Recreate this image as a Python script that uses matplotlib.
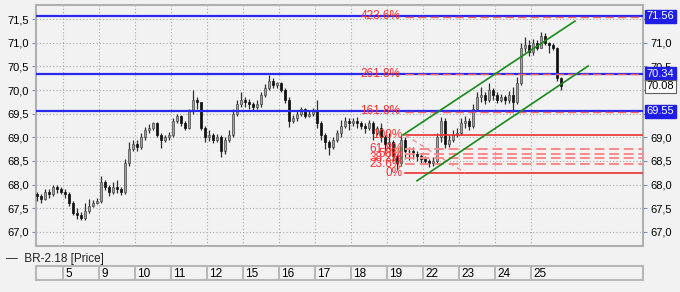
import matplotlib
matplotlib.use("Agg")
import matplotlib.pyplot as plt
import matplotlib.transforms as mtransforms
import numpy as np

# hourly-ish candles, 9 per trading day
closes = [67.75, 67.70, 67.85, 67.80, 67.95, 67.90, 67.85,
          67.80, 67.60, 67.40, 67.35, 67.30, 67.45, 67.55, 67.60, 67.65,
          68.05, 67.95, 67.85, 67.95, 67.90, 67.85, 68.45, 68.75, 68.85,
          68.80, 69.00, 69.15, 69.20, 69.30, 69.05, 68.95, 69.00, 69.05,
          69.35, 69.45, 69.30, 69.20, 69.55, 69.80, 69.75, 69.20, 69.00,
          69.05, 68.95, 69.00, 68.70, 68.95, 69.05, 69.50, 69.70, 69.80,
          69.75, 69.70, 69.65, 69.70, 69.90, 70.05, 70.20, 70.10, 70.15,
          70.00, 69.80, 69.35, 69.40, 69.50, 69.60, 69.45, 69.50, 69.55,
          69.30, 69.05, 68.90, 68.80, 68.95, 69.10, 69.25, 69.35, 69.30,
          69.35, 69.30, 69.25, 69.20, 69.30, 69.10, 69.20, 69.00, 68.85,
          68.90, 68.60, 68.45, 68.95, 68.70, 68.70, 68.65, 68.60, 68.55,
          68.50, 68.45, 68.50, 69.00, 69.35, 68.85, 68.95, 69.05, 69.10,
          69.30, 69.35, 69.25, 69.60, 69.85, 69.90, 69.80, 70.00, 69.90,
          69.80, 69.85, 69.80, 69.90, 69.75, 70.15, 70.90, 70.95, 70.80,
          71.00, 70.90, 71.15, 71.00, 70.95, 70.90, 70.25, 70.08]
highs = [67.85, 67.80, 67.90, 67.90, 68.00, 68.00, 67.95,
         67.90, 67.85, 67.65, 67.50, 67.42, 67.62, 67.70, 67.68, 67.72,
         68.18, 68.10, 68.00, 68.05, 68.10, 67.95, 68.55, 68.90, 68.95,
         68.95, 69.10, 69.22, 69.28, 69.33, 69.32, 69.10, 69.05, 69.12,
         69.40, 69.50, 69.48, 69.35, 69.60, 70.00, 69.85, 69.75, 69.25,
         69.15, 69.10, 69.08, 69.05, 69.00, 69.15, 69.60, 69.80, 69.95,
         69.85, 69.82, 69.75, 69.78, 69.95, 70.12, 70.32, 70.25, 70.18,
         70.18, 70.05, 69.85, 69.48, 69.55, 69.65, 69.62, 69.55, 69.62,
         69.80, 69.35, 69.10, 68.95, 69.00, 69.15, 69.37, 69.43, 69.40,
         69.40, 69.42, 69.35, 69.30, 69.37, 69.35, 69.25, 69.30, 69.05,
         69.10, 68.95, 68.65, 69.05, 69.00, 68.80, 68.80, 68.70, 68.65,
         68.60, 68.55, 68.58, 69.10, 69.43, 69.40, 69.05, 69.15, 69.20,
         69.40, 69.45, 69.40, 69.70, 69.95, 70.07, 69.95, 70.14, 70.05,
         69.95, 69.92, 69.90, 69.98, 70.07, 70.28, 71.00, 71.12, 71.05,
         71.08, 71.05, 71.23, 71.20, 71.02, 71.00, 70.92, 70.28]
lows = [67.65, 67.62, 67.68, 67.72, 67.75, 67.82, 67.80,
        67.72, 67.55, 67.35, 67.28, 67.25, 67.25, 67.40, 67.52, 67.58,
        67.62, 67.88, 67.75, 67.80, 67.82, 67.78, 67.80, 68.40, 68.70,
        68.72, 68.75, 68.95, 69.10, 69.15, 69.00, 68.78, 68.90, 68.95,
        69.00, 69.30, 69.25, 69.15, 69.18, 69.50, 69.60, 69.15, 68.90,
        68.92, 68.88, 68.90, 68.58, 68.65, 68.90, 69.00, 69.45, 69.65,
        69.65, 69.60, 69.58, 69.60, 69.65, 69.85, 70.00, 70.05, 70.05,
        69.95, 69.72, 69.22, 69.30, 69.35, 69.45, 69.40, 69.42, 69.45,
        69.20, 68.95, 68.75, 68.63, 68.75, 68.90, 69.00, 69.20, 69.15,
        69.25, 69.20, 69.18, 69.10, 69.15, 68.95, 69.05, 68.90, 68.67,
        68.75, 68.50, 68.31, 68.40, 68.55, 68.52, 68.55, 68.50, 68.45,
        68.45, 68.38, 68.40, 68.45, 68.90, 68.78, 68.80, 68.90, 69.00,
        69.05, 69.20, 69.15, 69.20, 69.55, 69.75, 69.70, 69.75, 69.80,
        69.72, 69.75, 69.70, 69.72, 69.55, 69.70, 70.10, 70.80, 70.72,
        70.75, 70.85, 70.88, 70.95, 70.78, 70.85, 70.20, 70.00]
first_open = 67.80

day_labels = ["5", "9", "10", "11", "12", "15", "16", "17", "18", "19",
              "22", "23", "24", "25"]
bars_per_day = 9
first_day_at = 6.5

# horizontal levels (blue) and fibonacci levels
blue_levels = [71.56, 70.34, 69.55]
ext_labels = ["423.6%", "261.8%", "161.8%"]
fib_high, fib_low = 69.05, 68.25
fib_ratios = [1.0, 0.618, 0.5, 0.382, 0.236, 0.0]
fib_names = ["100%", "61.8%", "50%", "38.2%", "23.6%", "0%"]
last_price = 70.08
right_hidden = [71.5, 70.0, 69.5]   # covered by the value boxes

# channel endpoints (index, price)
chan_up = [(91.5, 69.05), (134.5, 71.46)]
chan_lo = [(95.0, 68.08), (137.8, 70.51)]

BG = "#f2f2f2"
plt.rcParams["font.family"] = ["Liberation Sans", "DejaVu Sans"]

fig = plt.figure(figsize=(6.8, 2.92), dpi=100, facecolor=BG)
ax = fig.add_axes([36/680, 46/292, 607/680, 241/292], facecolor=BG)

n = len(closes)
x = np.arange(n)
opens = [first_open] + closes[:-1]
c = np.array(closes); o = np.array(opens)
up = c >= o
ax.vlines(x, lows, highs, color="#303030", lw=0.9, zorder=3)
body_lo = np.minimum(o, c); body_h = np.maximum(np.abs(c - o), 0.02)
ax.bar(x[up], body_h[up], bottom=body_lo[up], width=0.65, color="#a0a0a0",
       edgecolor="#4a4a4a", lw=0.5, zorder=4)
ax.bar(x[~up], body_h[~up], bottom=body_lo[~up], width=0.65, color="#101010",
       edgecolor="#101010", lw=0.5, zorder=4)

xmin, xmax = -0.25, 151.5
ymin, ymax = 66.70, 71.80
ax.set_xlim(xmin, xmax)
ax.set_ylim(ymin, ymax)

day_pos = [first_day_at + bars_per_day*k for k in range(len(day_labels))]
ax.set_xticks(day_pos)
ax.set_xticklabels([])
yt = np.arange(67.0, 71.51, 0.5)
fmt = lambda v: ("%.1f" % v).replace(".", ",")
ax.set_yticks(yt)
ax.set_yticklabels([fmt(v) for v in yt])
ax.tick_params(axis="y", labelsize=8, length=3, color="#7090c0",
               left=True, right=False, labelleft=True, labelright=False, pad=2)
ax.tick_params(axis="x", length=0)
ax.grid(True, color="#a8a8a8", linestyle=(0, (1, 2)), lw=0.8)
ax.set_axisbelow(True)
for s in ax.spines.values():
    s.set_color("#b0b0b0")
    s.set_linewidth(1.5)

# right axis labels, minus the ones hidden behind the boxes
rax = ax.twinx()
rax.set_ylim(ymin, ymax)
rax.set_yticks(yt)
rax.set_yticklabels(["" if any(abs(v - h) < 1e-6 for h in right_hidden)
                     else fmt(v) for v in yt])
rax.tick_params(axis="y", labelsize=8, length=3, color="#7090c0", pad=2)
for s in rax.spines.values():
    s.set_visible(False)

# blue level lines + extension labels
fib_x0 = 92.0
for lv, lab in zip(blue_levels, ext_labels):
    ax.axhline(lv, color="#2a2aee", lw=1.6, zorder=5)
    ax.plot([fib_x0, xmax], [lv - 0.01, lv - 0.01], color="#ff6060",
            lw=1.0, ls=(0, (6, 3)), zorder=6)
    ax.text(90.8, lv, lab, color="#ff3030", fontsize=8.5, ha="right",
            va="center", zorder=7)

# fibonacci retracement
for r, nm in zip(fib_ratios, fib_names):
    lv = fib_low + r*(fib_high - fib_low)
    if r in (0.0, 1.0):
        ax.plot([fib_x0, xmax], [lv, lv], color="#ee3030", lw=1.2, zorder=5)
    else:
        ax.plot([fib_x0, xmax], [lv, lv], color="#ff8888", lw=1.4,
                ls=(0, (5, 2.5)), zorder=5)
    ax.text(91.4, lv, nm, color="#ff3030", fontsize=8.5, ha="right",
            va="center", zorder=7)
ax.plot([fib_x0, 107.0], [fib_high, fib_low], color="#ff8888", lw=0.9,
        ls=(0, (4, 3)), zorder=5)

# trend channel
for pts in (chan_up, chan_lo):
    ax.plot([p[0] for p in pts], [p[1] for p in pts], color="#1a8a1a",
            lw=1.2, zorder=6)

# right-side value boxes
trans = mtransforms.blended_transform_factory(rax.transAxes, rax.transData)
for lv in blue_levels:
    rax.text(1.006, lv, "%.2f" % lv, transform=trans, color="white",
             fontsize=8, ha="left", va="center", zorder=10, clip_on=False,
             bbox=dict(boxstyle="square,pad=0.15", fc="#1e1ee6", ec="#1e1ee6"))
rax.text(1.006, last_price, "%.2f" % last_price, transform=trans,
         color="black", fontsize=8, ha="left", va="center", zorder=10,
         clip_on=False,
         bbox=dict(boxstyle="square,pad=0.15", fc="white", ec="#606060", lw=0.8))

# date strip
dax = fig.add_axes([36/680, 12/292, 607/680, 14/292], facecolor=BG)
dax.set_xlim(xmin, xmax)
dax.set_ylim(0, 1)
dax.set_xticks([]); dax.set_yticks([])
for s in dax.spines.values():
    s.set_color("#b8b8b8")
    s.set_linewidth(1.5)
for p, lab in zip(day_pos, day_labels):
    dax.axvline(p, color="#b8b8b8", lw=1.5)
    dax.text(p + 0.6, 0.45, lab, fontsize=8.5, ha="left", va="center")

fig.text(6/680, 1 - 259/292, "—  BR-2.18 [Price]", fontsize=8.5,
         ha="left", va="center", color="#202020")

fig.savefig("out.png", dpi=100, facecolor=BG)
